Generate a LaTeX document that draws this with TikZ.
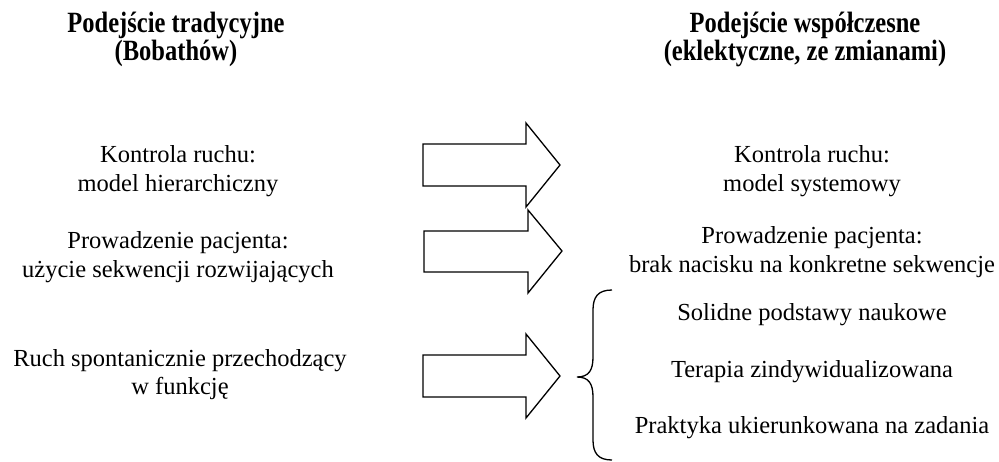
\documentclass[tikz,border=0pt]{standalone}
\usepackage{fontspec}
\setmainfont{Liberation Serif}
\begin{document}
\begin{tikzpicture}[x=1pt,y=-1pt,
  body/.style={anchor=base,inner sep=0pt,font=\fontsize{24.5}{29}\selectfont},
  head/.style={anchor=base,inner sep=0pt,font=\fontsize{24.5}{29}\selectfont\bfseries,yscale=1.0},
  bigarrow/.style={draw=black,line width=1.3pt,line join=miter,fill=white},
  bracestyle/.style={draw=black,line width=1.3pt}]
\useasboundingbox (0,0) rectangle (999,461);
% headers
\node[head] (h1a) at (176,32) {\scalebox{1}[1.2]{Podejście tradycyjne}};
\node[head] (h1b) at (176,60) {\scalebox{1}[1.2]{(Bobathów)}};
\node[head] (h2a) at (805,32) {\scalebox{1}[1.2]{Podejście współczesne}};
\node[head] (h2b) at (805,60) {\scalebox{1}[1.2]{(eklektyczne, ze zmianami)}};
% left texts
\node[body] (l1a) at (178,162) {Kontrola ruchu:};
\node[body] (l1b) at (178,191) {model hierarchiczny};
\node[body] (l2a) at (178,248) {Prowadzenie pacjenta:};
\node[body] (l2b) at (178,277) {użycie sekwencji rozwijających};
\node[body] (l3a) at (180,366) {Ruch spontanicznie przechodzący};
\node[body] (l3b) at (180,394) {w funkcję};
% right texts
\node[body] (r1a) at (812,162) {Kontrola ruchu:};
\node[body] (r1b) at (812,191) {model systemowy};
\node[body] (r2a) at (812,243) {Prowadzenie pacjenta:};
\node[body] (r2b) at (812,272) {brak nacisku na konkretne sekwencje};
\node[body] (r3a) at (812,320) {Solidne podstawy naukowe};
\node[body] (r3b) at (812,377) {Terapia zindywidualizowana};
\node[body] (r3c) at (812,433) {Praktyka ukierunkowana na zadania};
% arrows
\draw[bigarrow] (423,144) -- (526,144) -- (526,123) -- (560,165) -- (526,207) -- (526,186) -- (423,186) -- cycle;
\draw[bigarrow] (424,231) -- (528,231) -- (528,210) -- (562,251) -- (528,293) -- (528,272) -- (424,272) -- cycle;
\draw[bigarrow] (423,355) -- (526,355) -- (526,334) -- (560,376) -- (526,418) -- (526,397) -- (423,397) -- cycle;
% brace
\draw[bracestyle] (612,290) .. controls (598,290) and (593,297) .. (593,310) -- (593,357)
  .. controls (593,370) and (589,377) .. (577,377)
  .. controls (589,377) and (593,384) .. (593,397) -- (593,440)
  .. controls (593,453) and (598,460) .. (612,460);
\end{tikzpicture}
\end{document}
